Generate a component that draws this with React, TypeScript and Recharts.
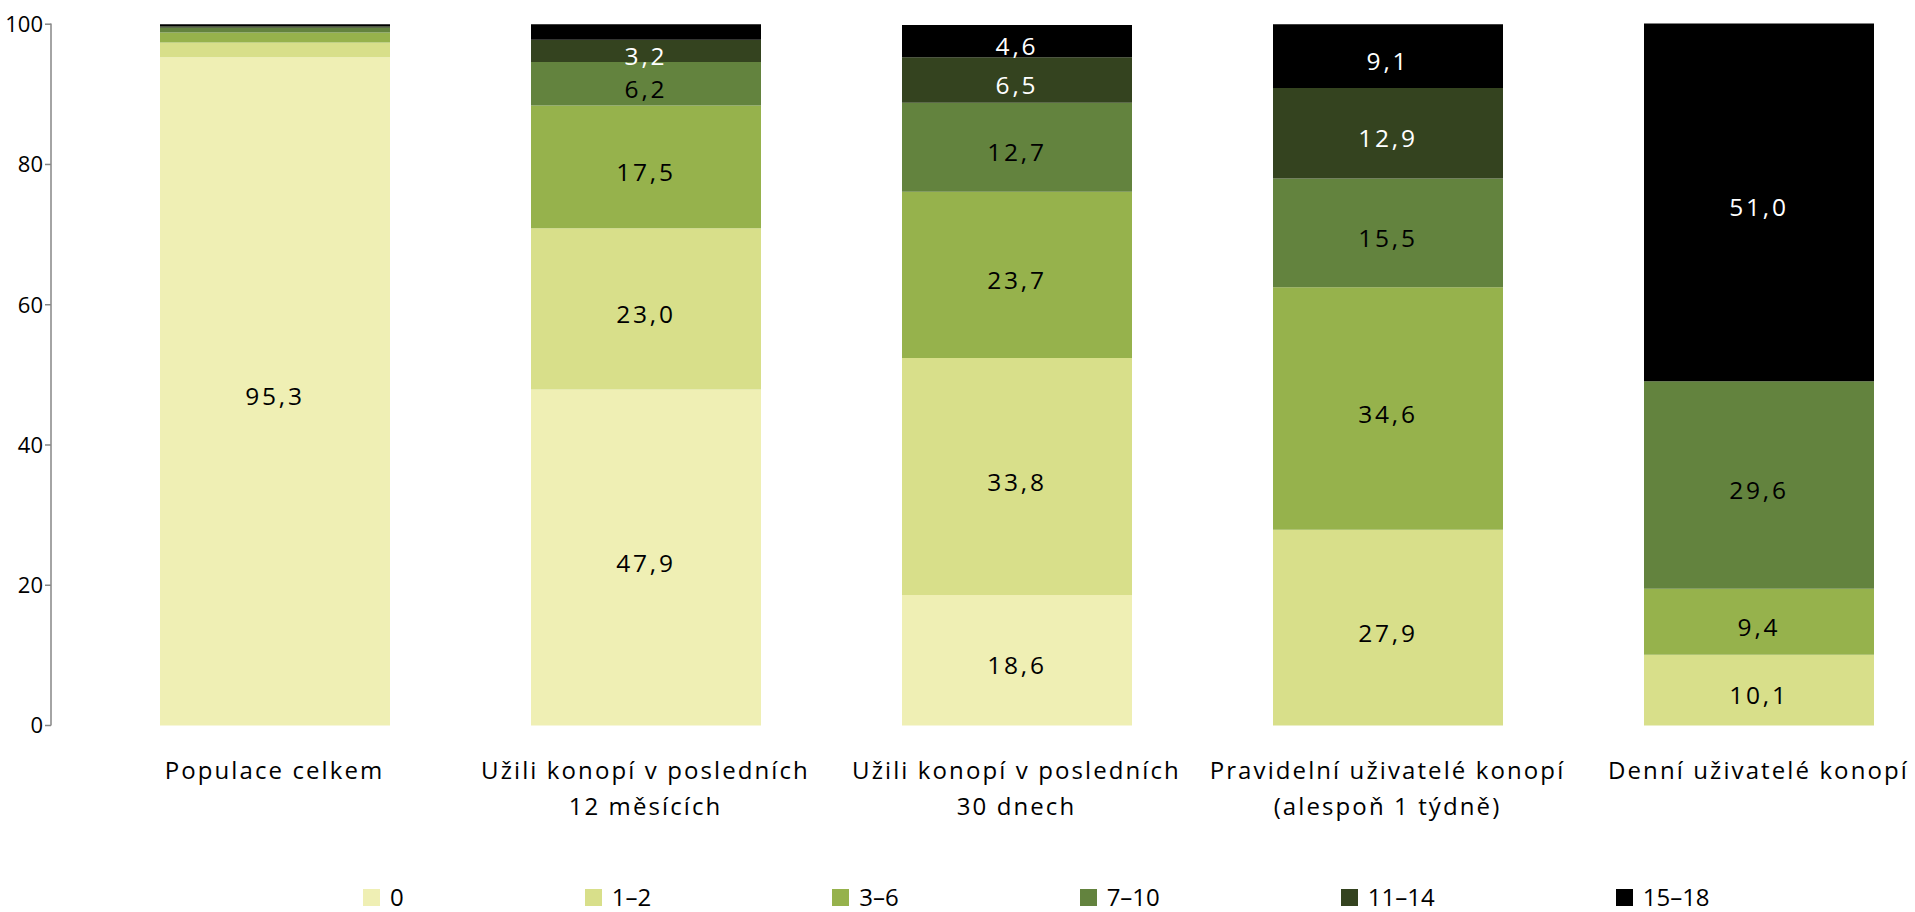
import React from 'react'
import { BarChart, Bar, XAxis, YAxis, LabelList } from 'recharts'

const categories = [
  'Populace celkem',
  'Užili konopí v posledních 12 měsících',
  'Užili konopí v posledních 30 dnech',
  'Pravidelní uživatelé konopí (alespoň 1 týdně)',
  'Denní uživatelé konopí',
]

const tickLines = [
  ['Populace celkem'],
  ['Užili konopí v posledních', '12 měsících'],
  ['Užili konopí v posledních', '30 dnech'],
  ['Pravidelní uživatelé konopí', '(alespoň 1 týdně)'],
  ['Denní uživatelé konopí'],
]

const yTicks = [0, 20, 40, 60, 80, 100]

const s0 = [95.3, 47.9, 18.6, 0, 0]
const s1to2 = [2.1, 23.0, 33.8, 27.9, 10.1]
const s3to6 = [1.4, 17.5, 23.7, 34.6, 9.4]
const s7to10 = [0.7, 6.2, 12.7, 15.5, 29.6]
const s11to14 = [0.2, 3.2, 6.5, 12.9, 0]
const s15to18 = [0.3, 2.2, 4.6, 9.1, 51.0]

const series = [
  { key: 'a', name: '0', values: s0, color: '#EFEFB4', text: '#000' },
  { key: 'b', name: '1–2', values: s1to2, color: '#D8DF8A', text: '#000' },
  { key: 'c', name: '3–6', values: s3to6, color: '#96B24C', text: '#000' },
  { key: 'd', name: '7–10', values: s7to10, color: '#63833E', text: '#000' },
  { key: 'e', name: '11–14', values: s11to14, color: '#34431F', text: '#fff' },
  { key: 'f', name: '15–18', values: s15to18, color: '#000000', text: '#fff' },
]

const data = categories.map((c, i) => {
  const row: Record<string, any> = { name: c, idx: i }
  series.forEach((s) => (row[s.key] = s.values[i]))
  return row
})

const FONT = '"Open Sans", "Noto Sans", sans-serif'

const fmt = (v: number) => v.toFixed(1).replace('.', ',')

function CatTick({ x, y, payload }: any) {
  const lines = tickLines[payload.index] ?? [payload.value]
  return (
    <text x={x} y={y} textAnchor="middle" fill="#000" fontSize={24} fontFamily={FONT} letterSpacing={2.1}>
      {lines.map((l, i) => (
        <tspan key={i} x={x} dy={i === 0 ? 53 : 36}>
          {l}
        </tspan>
      ))}
    </text>
  )
}

const makeLabel = (color: string) => (props: any) => {
  const { x, y, width, height, value } = props
  if (value == null || value < 3) return null
  return (
    <text
      x={x + width / 2}
      y={y + height / 2 + 14}
      textAnchor="middle"
      fill={color}
      fontSize={24.5}
      fontFamily={FONT}
      letterSpacing={2.8}
    >
      {fmt(value)}
    </text>
  )
}

export default function App() {
  return (
    <div style={{ position: 'absolute', left: 0, top: 0, width: 1915, height: 912, background: '#fff' }}>
      <BarChart
        width={1915}
        height={912}
        data={data}
        margin={{ top: 23.5, right: 0, bottom: 0, left: 0 }}
      >
        <XAxis
          dataKey="name"
          axisLine={false}
          tickLine={false}
          tickSize={0}
          tickMargin={0}
          height={186.5}
          interval={0}
          padding={{ left: 38, right: -29 }}
          tick={<CatTick />}
        />
        <YAxis
          width={51}
          domain={[0, 100]}
          ticks={yTicks}
          axisLine={{ stroke: '#868686', strokeWidth: 1.5 }}
          tickLine={{ stroke: '#868686', strokeWidth: 1.5 }}
          tickSize={6}
          tickMargin={2}
          tick={{ fill: '#000', fontSize: 22, fontFamily: FONT }}
        />
        {series.map((s) => (
          <Bar
            key={s.key}
            dataKey={s.key}
            name={s.name}
            stackId="st"
            fill={s.color}
            barSize={230}
            isAnimationActive={false}
          >
            <LabelList dataKey={s.key} content={makeLabel(s.text)} />
          </Bar>
        ))}
      </BarChart>
      <div
        style={{
          position: 'absolute',
          top: 881,
          left: 363,
          display: 'flex',
          alignItems: 'center',
          gap: 181,
          fontFamily: FONT,
          fontSize: 24,
          color: '#000',
        }}
      >
        {series.map((s) => (
          <div key={s.key} style={{ display: 'flex', alignItems: 'center', gap: 10 }}>
            <span style={{ width: 17, height: 17, background: s.color, display: 'inline-block' }} />
            <span style={{ lineHeight: '32px' }}>{s.name}</span>
          </div>
        ))}
      </div>
    </div>
  )
}
